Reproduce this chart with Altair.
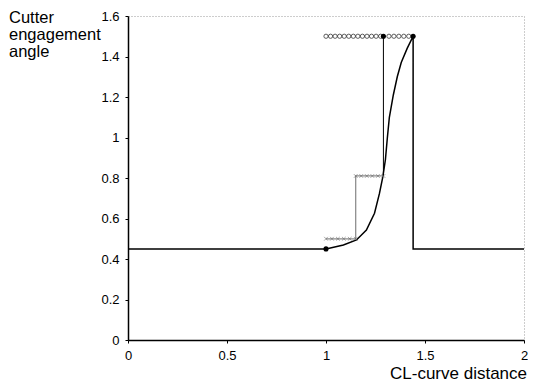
import altair as alt
import pandas as pd

# ---- data ----
# actual engagement angle (black curve)
actual_x = [0.0, 1.0, 1.088, 1.154, 1.204, 1.245, 1.27, 1.287, 1.30, 1.31, 1.32, 1.34, 1.36, 1.38, 1.41, 1.44, 1.44, 2.0]
actual_y = [0.45, 0.45, 0.469, 0.494, 0.543, 0.626, 0.724, 0.806, 0.89, 1.0, 1.10, 1.21, 1.30, 1.37, 1.44, 1.5, 0.45, 0.45]

# stepped approximation (grey)
step_x = [1.0, 1.15, 1.15, 1.29]
step_y = [0.5, 0.5, 0.81, 0.81]

# black vertical jump at 1.29
jump_x = [1.29, 1.29]
jump_y = [0.81, 1.5]

# cross markers on the steps
cross_x = [1.0, 1.03, 1.06, 1.09, 1.12, 1.15, 1.15, 1.178, 1.206, 1.234, 1.262, 1.29]
cross_y = [0.5, 0.5, 0.5, 0.5, 0.5, 0.5, 0.81, 0.81, 0.81, 0.81, 0.81, 0.81]

# open circles at maximum angle
circ_x = [1.0, 1.023, 1.046, 1.069, 1.092, 1.115, 1.138, 1.161, 1.184, 1.207, 1.23, 1.253, 1.276,
          1.318, 1.343, 1.368, 1.393, 1.418]
circ_y = [1.5] * 18

# filled dots
dot_x = [1.0, 1.29, 1.44]
dot_y = [0.45, 1.5, 1.5]

x_ticks = [0, 0.5, 1, 1.5, 2]
y_ticks = [0, 0.2, 0.4, 0.6, 0.8, 1, 1.2, 1.4, 1.6]

FONT = "Liberation Sans"
W, H = 396, 324

rows = []
for i, (a, b) in enumerate(zip(actual_x, actual_y)):
    rows.append({"x": a, "y": b, "seg": "actual", "ord": i})
for i, (a, b) in enumerate(zip(step_x, step_y)):
    rows.append({"x": a, "y": b, "seg": "step", "ord": i})
for i, (a, b) in enumerate(zip(jump_x, jump_y)):
    rows.append({"x": a, "y": b, "seg": "jump", "ord": i})
lines_df = pd.DataFrame(rows)

cross_df = pd.DataFrame({"x": cross_x, "y": cross_y})
circ_df = pd.DataFrame({"x": circ_x, "y": circ_y})
dot_df = pd.DataFrame({"x": dot_x, "y": dot_y})

xs = alt.Scale(domain=[0, 2], nice=False, zero=False)
ys = alt.Scale(domain=[0, 1.6], nice=False, zero=False)

x_axis = alt.Axis(values=x_ticks, labelExpr="format(datum.value, '~g')", title=None, grid=False,
                  domainColor="black", domainWidth=1.5, tickColor="black", tickSize=3,
                  labelFontSize=13, labelFont=FONT, labelColor="black", labelPadding=6,
                  labelFlush=False)
y_axis = alt.Axis(values=y_ticks, labelExpr="format(datum.value, '~g')", title=None, grid=False,
                  domainColor="black", domainWidth=1.5, tickColor="black", tickSize=3,
                  labelFontSize=13, labelFont=FONT, labelColor="black", labelPadding=6,
                  labelFlush=False)

lines = alt.Chart(lines_df).mark_line(clip=False).encode(
    x=alt.X("x:Q", scale=xs, axis=x_axis),
    y=alt.Y("y:Q", scale=ys, axis=y_axis),
    detail="seg:N",
    order="ord:Q",
    color=alt.Color("seg:N", scale=alt.Scale(domain=["actual", "step", "jump"],
                                             range=["#000000", "#8a8a8a", "#000000"]), legend=None),
    strokeWidth=alt.StrokeWidth("seg:N", scale=alt.Scale(domain=["actual", "step", "jump"],
                                                          range=[1.5, 1.0, 1.5]), legend=None),
)

crosses = alt.Chart(cross_df).mark_point(
    shape="M-1,-1L1,1M-1,1L1,-1", size=14, color="#666666", strokeWidth=0.8, filled=False
).encode(x=alt.X("x:Q", scale=xs), y=alt.Y("y:Q", scale=ys))

circles = alt.Chart(circ_df).mark_point(
    shape="circle", size=18, color="#000000", strokeWidth=0.9, filled=False
).encode(x=alt.X("x:Q", scale=xs), y=alt.Y("y:Q", scale=ys))

dots = alt.Chart(dot_df).mark_point(
    shape="circle", size=26, color="#000000", filled=True, opacity=1
).encode(x=alt.X("x:Q", scale=xs), y=alt.Y("y:Q", scale=ys))

ytitle = alt.Chart(pd.DataFrame({"t": ["Cutter\nengagement\nangle"]})).mark_text(
    align="left", baseline="alphabetic", lineBreak="\n", lineHeight=17,
    fontSize=16.5, font=FONT, color="black"
).encode(text="t:N", x=alt.value(-119), y=alt.value(7))

xtitle = alt.Chart(pd.DataFrame({"t": ["CL-curve distance"]})).mark_text(
    align="right", baseline="alphabetic", fontSize=17, font=FONT, color="black"
).encode(text="t:N", x=alt.value(W + 3), y=alt.value(H + 39))

chart = alt.layer(lines, crosses, circles, dots, ytitle, xtitle).properties(
    width=W, height=H,
    autosize=alt.AutoSizeParams(type="none"),
    padding={"left": 120, "top": 8, "right": 4, "bottom": 44},
).configure_view(stroke="#9a9a9a", strokeDash=[1, 2], strokeWidth=1)

chart.save("out.html", embed_options={"renderer": "svg", "actions": False})
